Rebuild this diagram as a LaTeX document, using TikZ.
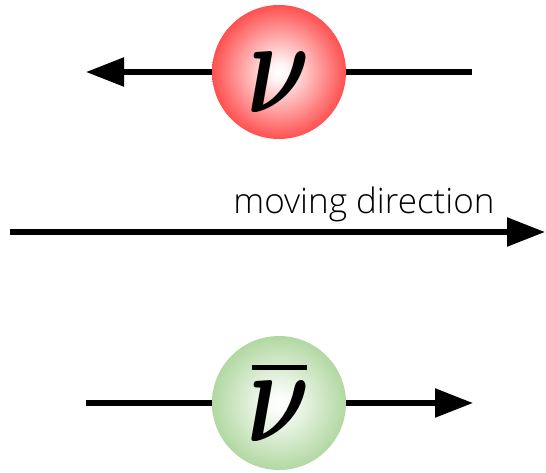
\documentclass[tikz,border=0pt]{standalone}
\usepackage{fontspec}
\usepackage{bm}
\usetikzlibrary{arrows.meta}
\newfontfamily\lightfont[Ligatures=NoCommon]{Open Sans Light}

\definecolor{nured}{RGB}{255,80,80}
\definecolor{nugreen}{RGB}{178,216,162}
\pgfdeclareradialshading{redball}{\pgfpoint{0bp}{0bp}}{%
  color(0bp)=(white); color(3bp)=(white!95!nured); color(25bp)=(nured); color(50bp)=(nured)}
\pgfdeclareradialshading{greenball}{\pgfpoint{0bp}{0bp}}{%
  color(0bp)=(white); color(3bp)=(white!95!nugreen); color(25bp)=(nugreen); color(50bp)=(nugreen)}

\newcommand{\bignu}{\scalebox{9.7}[13.5]{$\bm{\nu}$}}

\tikzset{
  ball/.style={circle, minimum size=134pt, inner sep=0pt},
  track/.style={line width=5.5pt},
  tip/.style={-{Triangle[length=38pt,width=28pt]}}
}

\begin{document}
\begin{tikzpicture}[x=1pt,y=-1pt]
\useasboundingbox (0,0) rectangle (546,472);

% Нейтрино (влево)
\node[ball, shading=redball] (nu) at (279,72) {\raisebox{-40pt}[0pt][0pt]{\bignu}};
\coordinate (nuR) at (472,72);
\coordinate (nuL) at (86,72);
\draw[track] (nuR) -- (nu);
\draw[track, tip] (nu) -- (nuL);

% Направление движения
\coordinate (dirL) at (10,232);
\coordinate (dirR) at (545,232);
\draw[track, tip] (dirL) -- (dirR);
\node[anchor=base east, font=\lightfont\fontsize{35}{35}\selectfont] (lbl) at (498,213) {moving direction};

% Антинейтрино (вправо)
\node[ball, shading=greenball] (anu) at (279,403)
  {\raisebox{-38pt}[0pt][0pt]{\ooalign{\bignu\cr\hidewidth\rule[71pt]{55pt}{5pt}\hidewidth\cr}}};
\coordinate (anuL) at (86,403);
\coordinate (anuR) at (473,403);
\draw[track] (anuL) -- (anu);
\draw[track, tip] (anu) -- (anuR);
\end{tikzpicture}
\end{document}
